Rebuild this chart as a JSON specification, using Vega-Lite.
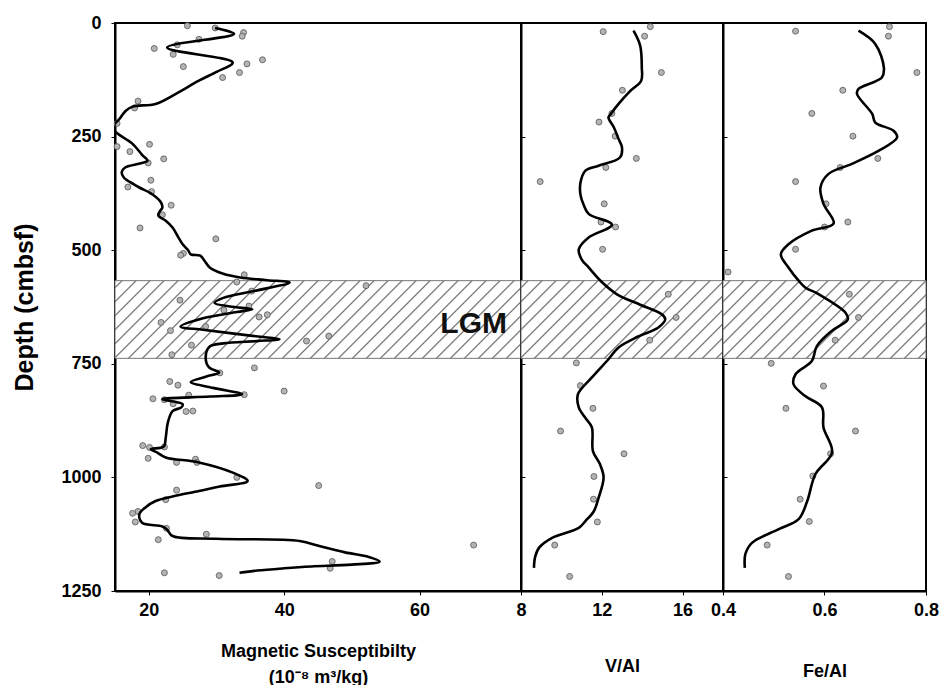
{
  "$schema": "https://vega.github.io/schema/vega-lite/v6.json",
  "background": "white",
  "padding": {"left": 11, "top": 13, "right": 5, "bottom": 5},
  "spacing": 0,
  "bounds": "flush",
  "config": {
    "font": "Liberation Sans",
    "view": {"stroke": "black", "strokeWidth": 2},
    "axis": {
      "labelFont": "Liberation Sans", "labelFontWeight": "bold", "labelFontSize": 18, "labelColor": "black",
      "titleFont": "Liberation Sans", "titleFontWeight": "bold", "titleColor": "black",
      "domainColor": "black", "domainWidth": 2, "tickColor": "black", "tickWidth": 1,
      "grid": false, "labelFlush": false, "labelOverlap": false, "labelBound": false
    }
  },
  "datasets": {
    "band": [{"depth": 567, "depth2": 738}],
    "lgm": [{"depth": 662, "value": 68.0, "label": "LGM"}],
    "ms_pts": [
      {"depth": 6, "value": 25.7}, {"depth": 11, "value": 29.8}, {"depth": 21, "value": 34.0}, {"depth": 29, "value": 33.8},
      {"depth": 36, "value": 27.4}, {"depth": 48, "value": 24.2}, {"depth": 56, "value": 20.8}, {"depth": 69, "value": 23.6},
      {"depth": 81, "value": 36.8}, {"depth": 90, "value": 34.5}, {"depth": 96, "value": 25.1}, {"depth": 109, "value": 33.4},
      {"depth": 120, "value": 30.9}, {"depth": 172, "value": 18.4}, {"depth": 187, "value": 17.9}, {"depth": 221, "value": 15.3},
      {"depth": 267, "value": 20.1}, {"depth": 272, "value": 15.3}, {"depth": 283, "value": 17.2}, {"depth": 299, "value": 22.2},
      {"depth": 308, "value": 19.9}, {"depth": 346, "value": 20.3}, {"depth": 361, "value": 16.9}, {"depth": 371, "value": 20.4},
      {"depth": 401, "value": 23.3}, {"depth": 422, "value": 22.0}, {"depth": 451, "value": 18.7}, {"depth": 475, "value": 29.9},
      {"depth": 507, "value": 25.1}, {"depth": 511, "value": 24.7}, {"depth": 554, "value": 34.1}, {"depth": 570, "value": 33.0},
      {"depth": 578, "value": 52.1}, {"depth": 590, "value": 35.2}, {"depth": 610, "value": 24.6}, {"depth": 623, "value": 34.8},
      {"depth": 632, "value": 31.1}, {"depth": 642, "value": 37.5}, {"depth": 647, "value": 36.3}, {"depth": 659, "value": 21.8},
      {"depth": 668, "value": 28.4}, {"depth": 677, "value": 23.2}, {"depth": 689, "value": 46.6}, {"depth": 700, "value": 43.3},
      {"depth": 709, "value": 26.3}, {"depth": 730, "value": 23.4}, {"depth": 759, "value": 35.6}, {"depth": 770, "value": 30.5},
      {"depth": 789, "value": 23.1}, {"depth": 797, "value": 24.3}, {"depth": 810, "value": 40.0}, {"depth": 818, "value": 34.1},
      {"depth": 819, "value": 25.9}, {"depth": 827, "value": 20.6}, {"depth": 829, "value": 22.3}, {"depth": 838, "value": 23.6},
      {"depth": 854, "value": 26.5}, {"depth": 855, "value": 25.5}, {"depth": 930, "value": 19.1}, {"depth": 933, "value": 22.3},
      {"depth": 934, "value": 20.1}, {"depth": 958, "value": 19.9}, {"depth": 960, "value": 26.9}, {"depth": 967, "value": 24.1},
      {"depth": 967, "value": 27.1}, {"depth": 1000, "value": 33.0}, {"depth": 1018, "value": 45.1}, {"depth": 1028, "value": 24.1},
      {"depth": 1049, "value": 22.5}, {"depth": 1075, "value": 18.4}, {"depth": 1079, "value": 17.6}, {"depth": 1098, "value": 18.0},
      {"depth": 1112, "value": 22.6}, {"depth": 1125, "value": 28.5}, {"depth": 1137, "value": 21.4}, {"depth": 1149, "value": 68.0},
      {"depth": 1185, "value": 47.1}, {"depth": 1200, "value": 46.8}, {"depth": 1210, "value": 22.3}, {"depth": 1216, "value": 30.4}
    ],
    "ms_line": [
      {"depth": 11, "value": 29.8}, {"depth": 24, "value": 32.6}, {"depth": 54, "value": 22.7}, {"depth": 87, "value": 32.4},
      {"depth": 107, "value": 30.1}, {"depth": 127, "value": 27.4}, {"depth": 156, "value": 24.0}, {"depth": 178, "value": 21.0},
      {"depth": 184, "value": 17.6}, {"depth": 193, "value": 16.6}, {"depth": 212, "value": 15.6}, {"depth": 222, "value": 15.0},
      {"depth": 235, "value": 14.8}, {"depth": 266, "value": 17.6}, {"depth": 290, "value": 19.0}, {"depth": 303, "value": 19.8},
      {"depth": 310, "value": 18.5}, {"depth": 318, "value": 16.5}, {"depth": 328, "value": 16.0}, {"depth": 340, "value": 16.3},
      {"depth": 355, "value": 17.8}, {"depth": 362, "value": 18.6}, {"depth": 377, "value": 20.5}, {"depth": 395, "value": 21.8},
      {"depth": 406, "value": 22.0}, {"depth": 415, "value": 21.6}, {"depth": 424, "value": 21.4}, {"depth": 435, "value": 22.5},
      {"depth": 450, "value": 23.5}, {"depth": 470, "value": 24.3}, {"depth": 487, "value": 25.0}, {"depth": 500, "value": 25.8},
      {"depth": 509, "value": 26.2}, {"depth": 512, "value": 27.6}, {"depth": 525, "value": 28.3}, {"depth": 538, "value": 29.0},
      {"depth": 552, "value": 31.0}, {"depth": 560, "value": 33.5}, {"depth": 566, "value": 37.5}, {"depth": 571, "value": 40.8},
      {"depth": 590, "value": 35.5}, {"depth": 605, "value": 31.0}, {"depth": 616, "value": 29.7}, {"depth": 624, "value": 32.0},
      {"depth": 630, "value": 35.3}, {"depth": 636, "value": 33.0}, {"depth": 650, "value": 28.0}, {"depth": 668, "value": 24.7},
      {"depth": 675, "value": 28.0}, {"depth": 688, "value": 35.0}, {"depth": 696, "value": 39.3}, {"depth": 700, "value": 36.0},
      {"depth": 705, "value": 31.0}, {"depth": 712, "value": 29.0}, {"depth": 736, "value": 28.4}, {"depth": 758, "value": 28.9},
      {"depth": 769, "value": 30.4}, {"depth": 778, "value": 28.5}, {"depth": 790, "value": 26.2}, {"depth": 803, "value": 29.5},
      {"depth": 817, "value": 33.8}, {"depth": 822, "value": 29.0}, {"depth": 828, "value": 22.0}, {"depth": 834, "value": 24.0},
      {"depth": 839, "value": 25.0}, {"depth": 846, "value": 24.8}, {"depth": 854, "value": 23.5}, {"depth": 880, "value": 22.8},
      {"depth": 912, "value": 22.5}, {"depth": 932, "value": 22.2}, {"depth": 938, "value": 20.3}, {"depth": 945, "value": 21.2},
      {"depth": 956, "value": 22.5}, {"depth": 967, "value": 27.4}, {"depth": 990, "value": 32.5}, {"depth": 1008, "value": 34.6},
      {"depth": 1020, "value": 30.5}, {"depth": 1030, "value": 27.4}, {"depth": 1042, "value": 23.5}, {"depth": 1052, "value": 21.0},
      {"depth": 1066, "value": 19.5}, {"depth": 1081, "value": 18.6}, {"depth": 1100, "value": 19.0}, {"depth": 1108, "value": 22.0},
      {"depth": 1115, "value": 22.7}, {"depth": 1129, "value": 23.5}, {"depth": 1135, "value": 30.0}, {"depth": 1140, "value": 42.3},
      {"depth": 1151, "value": 45.2}, {"depth": 1165, "value": 49.0}, {"depth": 1175, "value": 52.5}, {"depth": 1185, "value": 54.1},
      {"depth": 1192, "value": 50.0}, {"depth": 1196, "value": 44.0}, {"depth": 1200, "value": 40.0}, {"depth": 1205, "value": 36.0},
      {"depth": 1210, "value": 33.4}
    ],
    "v_pts": [
      {"depth": 8, "value": 14.4}, {"depth": 19, "value": 12.07}, {"depth": 29, "value": 14.12}, {"depth": 109, "value": 14.95},
      {"depth": 148, "value": 13.02}, {"depth": 199, "value": 12.5}, {"depth": 218, "value": 11.86}, {"depth": 249, "value": 12.66},
      {"depth": 298, "value": 13.71}, {"depth": 318, "value": 12.2}, {"depth": 349, "value": 8.95}, {"depth": 398, "value": 12.12},
      {"depth": 438, "value": 11.96}, {"depth": 449, "value": 12.68}, {"depth": 498, "value": 12.04}, {"depth": 597, "value": 15.29},
      {"depth": 648, "value": 15.68}, {"depth": 698, "value": 14.37}, {"depth": 748, "value": 10.74}, {"depth": 798, "value": 10.94},
      {"depth": 848, "value": 11.56}, {"depth": 898, "value": 9.96}, {"depth": 948, "value": 13.1}, {"depth": 998, "value": 11.61},
      {"depth": 1048, "value": 11.59}, {"depth": 1098, "value": 11.78}, {"depth": 1149, "value": 9.67}, {"depth": 1218, "value": 10.41}
    ],
    "v_line": [
      {"depth": 17, "value": 13.57}, {"depth": 50, "value": 13.9}, {"depth": 98, "value": 13.98}, {"depth": 127, "value": 13.95},
      {"depth": 150, "value": 13.4}, {"depth": 178, "value": 12.83}, {"depth": 200, "value": 12.45}, {"depth": 208, "value": 12.33},
      {"depth": 230, "value": 12.6}, {"depth": 255, "value": 12.83}, {"depth": 274, "value": 13.0}, {"depth": 296, "value": 12.9},
      {"depth": 314, "value": 11.84}, {"depth": 325, "value": 11.19}, {"depth": 350, "value": 10.95}, {"depth": 377, "value": 10.94},
      {"depth": 400, "value": 11.1}, {"depth": 420, "value": 11.35}, {"depth": 444, "value": 12.5}, {"depth": 472, "value": 11.35},
      {"depth": 498, "value": 10.86}, {"depth": 520, "value": 11.0}, {"depth": 538, "value": 11.35}, {"depth": 570, "value": 12.0},
      {"depth": 597, "value": 12.75}, {"depth": 620, "value": 13.9}, {"depth": 641, "value": 14.97}, {"depth": 652, "value": 15.14},
      {"depth": 670, "value": 14.8}, {"depth": 690, "value": 13.8}, {"depth": 714, "value": 12.83}, {"depth": 740, "value": 12.33},
      {"depth": 780, "value": 11.51}, {"depth": 817, "value": 10.82}, {"depth": 846, "value": 10.86}, {"depth": 870, "value": 11.2},
      {"depth": 890, "value": 11.51}, {"depth": 942, "value": 11.56}, {"depth": 970, "value": 11.9}, {"depth": 1000, "value": 12.09},
      {"depth": 1045, "value": 11.84}, {"depth": 1075, "value": 11.6}, {"depth": 1096, "value": 11.19}, {"depth": 1111, "value": 10.86},
      {"depth": 1133, "value": 9.54}, {"depth": 1155, "value": 8.89}, {"depth": 1175, "value": 8.7}, {"depth": 1199, "value": 8.64}
    ],
    "fe_pts": [
      {"depth": 8, "value": 0.728}, {"depth": 18, "value": 0.543}, {"depth": 29, "value": 0.726}, {"depth": 109, "value": 0.782},
      {"depth": 148, "value": 0.636}, {"depth": 199, "value": 0.575}, {"depth": 249, "value": 0.656}, {"depth": 298, "value": 0.705},
      {"depth": 318, "value": 0.631}, {"depth": 349, "value": 0.543}, {"depth": 398, "value": 0.603}, {"depth": 438, "value": 0.646},
      {"depth": 449, "value": 0.6}, {"depth": 498, "value": 0.543}, {"depth": 548, "value": 0.41}, {"depth": 597, "value": 0.649},
      {"depth": 648, "value": 0.667}, {"depth": 698, "value": 0.621}, {"depth": 749, "value": 0.495}, {"depth": 799, "value": 0.598},
      {"depth": 848, "value": 0.524}, {"depth": 898, "value": 0.661}, {"depth": 948, "value": 0.612}, {"depth": 997, "value": 0.577},
      {"depth": 1048, "value": 0.552}, {"depth": 1097, "value": 0.57}, {"depth": 1149, "value": 0.487}, {"depth": 1218, "value": 0.529}
    ],
    "fe_line": [
      {"depth": 17, "value": 0.667}, {"depth": 46, "value": 0.7}, {"depth": 98, "value": 0.717}, {"depth": 120, "value": 0.713},
      {"depth": 145, "value": 0.667}, {"depth": 156, "value": 0.664}, {"depth": 200, "value": 0.694}, {"depth": 219, "value": 0.7},
      {"depth": 237, "value": 0.736}, {"depth": 252, "value": 0.743}, {"depth": 281, "value": 0.707}, {"depth": 310, "value": 0.654},
      {"depth": 332, "value": 0.608}, {"depth": 362, "value": 0.592}, {"depth": 398, "value": 0.598}, {"depth": 441, "value": 0.618},
      {"depth": 457, "value": 0.575}, {"depth": 487, "value": 0.529}, {"depth": 509, "value": 0.514}, {"depth": 538, "value": 0.529},
      {"depth": 567, "value": 0.549}, {"depth": 582, "value": 0.562}, {"depth": 597, "value": 0.589}, {"depth": 637, "value": 0.641},
      {"depth": 652, "value": 0.646}, {"depth": 677, "value": 0.615}, {"depth": 711, "value": 0.585}, {"depth": 744, "value": 0.575},
      {"depth": 773, "value": 0.543}, {"depth": 795, "value": 0.539}, {"depth": 821, "value": 0.562}, {"depth": 846, "value": 0.595},
      {"depth": 890, "value": 0.598}, {"depth": 945, "value": 0.615}, {"depth": 993, "value": 0.582}, {"depth": 1052, "value": 0.566},
      {"depth": 1092, "value": 0.549}, {"depth": 1114, "value": 0.51}, {"depth": 1144, "value": 0.457}, {"depth": 1169, "value": 0.444},
      {"depth": 1199, "value": 0.443}
    ]
  },
  "hconcat": [
    {
      "width": 406, "height": 568,
      "encoding": {
        "y": {"field": "depth", "type": "quantitative",
          "scale": {"domain": [0, 1250], "reverse": true, "nice": false, "zero": false},
          "axis": {"title": "Depth (cmbsf)", "values": [0, 250, 500, 750, 1000, 1250], "format": "d", "titleFontSize": 25, "tickSize": 4, "labelPadding": 10, "titlePadding": 23}}
      },
      "layer": [
        {
          "data": {"name": "band"},
          "mark": {"type": "rect", "stroke": "#777777", "strokeWidth": 1,
            "fill": {"gradient": "linear", "x1": 0, "y1": 0, "x2": 1.1643, "y2": 0.2228, "stops": [
              {"offset": 0, "color": "#fff"},
              {"offset": 0.0109, "color": "#fff"}, {"offset": 0.0143, "color": "#666"}, {"offset": 0.0177, "color": "#fff"},
              {"offset": 0.0395, "color": "#fff"}, {"offset": 0.0429, "color": "#666"}, {"offset": 0.0463, "color": "#fff"},
              {"offset": 0.0680, "color": "#fff"}, {"offset": 0.0714, "color": "#666"}, {"offset": 0.0748, "color": "#fff"},
              {"offset": 0.0966, "color": "#fff"}, {"offset": 0.1000, "color": "#666"}, {"offset": 0.1034, "color": "#fff"},
              {"offset": 0.1252, "color": "#fff"}, {"offset": 0.1286, "color": "#666"}, {"offset": 0.1320, "color": "#fff"},
              {"offset": 0.1537, "color": "#fff"}, {"offset": 0.1571, "color": "#666"}, {"offset": 0.1605, "color": "#fff"},
              {"offset": 0.1823, "color": "#fff"}, {"offset": 0.1857, "color": "#666"}, {"offset": 0.1891, "color": "#fff"},
              {"offset": 0.2109, "color": "#fff"}, {"offset": 0.2143, "color": "#666"}, {"offset": 0.2177, "color": "#fff"},
              {"offset": 0.2395, "color": "#fff"}, {"offset": 0.2429, "color": "#666"}, {"offset": 0.2463, "color": "#fff"},
              {"offset": 0.2680, "color": "#fff"}, {"offset": 0.2714, "color": "#666"}, {"offset": 0.2748, "color": "#fff"},
              {"offset": 0.2966, "color": "#fff"}, {"offset": 0.3000, "color": "#666"}, {"offset": 0.3034, "color": "#fff"},
              {"offset": 0.3252, "color": "#fff"}, {"offset": 0.3286, "color": "#666"}, {"offset": 0.3320, "color": "#fff"},
              {"offset": 0.3537, "color": "#fff"}, {"offset": 0.3571, "color": "#666"}, {"offset": 0.3605, "color": "#fff"},
              {"offset": 0.3823, "color": "#fff"}, {"offset": 0.3857, "color": "#666"}, {"offset": 0.3891, "color": "#fff"},
              {"offset": 0.4109, "color": "#fff"}, {"offset": 0.4143, "color": "#666"}, {"offset": 0.4177, "color": "#fff"},
              {"offset": 0.4395, "color": "#fff"}, {"offset": 0.4429, "color": "#666"}, {"offset": 0.4463, "color": "#fff"},
              {"offset": 0.4680, "color": "#fff"}, {"offset": 0.4714, "color": "#666"}, {"offset": 0.4748, "color": "#fff"},
              {"offset": 0.4966, "color": "#fff"}, {"offset": 0.5000, "color": "#666"}, {"offset": 0.5034, "color": "#fff"},
              {"offset": 0.5252, "color": "#fff"}, {"offset": 0.5286, "color": "#666"}, {"offset": 0.5320, "color": "#fff"},
              {"offset": 0.5537, "color": "#fff"}, {"offset": 0.5571, "color": "#666"}, {"offset": 0.5605, "color": "#fff"},
              {"offset": 0.5823, "color": "#fff"}, {"offset": 0.5857, "color": "#666"}, {"offset": 0.5891, "color": "#fff"},
              {"offset": 0.6109, "color": "#fff"}, {"offset": 0.6143, "color": "#666"}, {"offset": 0.6177, "color": "#fff"},
              {"offset": 0.6395, "color": "#fff"}, {"offset": 0.6429, "color": "#666"}, {"offset": 0.6463, "color": "#fff"},
              {"offset": 0.6680, "color": "#fff"}, {"offset": 0.6714, "color": "#666"}, {"offset": 0.6748, "color": "#fff"},
              {"offset": 0.6966, "color": "#fff"}, {"offset": 0.7000, "color": "#666"}, {"offset": 0.7034, "color": "#fff"},
              {"offset": 0.7252, "color": "#fff"}, {"offset": 0.7286, "color": "#666"}, {"offset": 0.7320, "color": "#fff"},
              {"offset": 0.7537, "color": "#fff"}, {"offset": 0.7571, "color": "#666"}, {"offset": 0.7605, "color": "#fff"},
              {"offset": 0.7823, "color": "#fff"}, {"offset": 0.7857, "color": "#666"}, {"offset": 0.7891, "color": "#fff"},
              {"offset": 0.8109, "color": "#fff"}, {"offset": 0.8143, "color": "#666"}, {"offset": 0.8177, "color": "#fff"},
              {"offset": 0.8395, "color": "#fff"}, {"offset": 0.8429, "color": "#666"}, {"offset": 0.8463, "color": "#fff"},
              {"offset": 0.8680, "color": "#fff"}, {"offset": 0.8714, "color": "#666"}, {"offset": 0.8748, "color": "#fff"},
              {"offset": 0.8966, "color": "#fff"}, {"offset": 0.9000, "color": "#666"}, {"offset": 0.9034, "color": "#fff"},
              {"offset": 0.9252, "color": "#fff"}, {"offset": 0.9286, "color": "#666"}, {"offset": 0.9320, "color": "#fff"},
              {"offset": 0.9537, "color": "#fff"}, {"offset": 0.9571, "color": "#666"}, {"offset": 0.9605, "color": "#fff"},
              {"offset": 0.9823, "color": "#fff"}, {"offset": 0.9857, "color": "#666"}, {"offset": 0.9891, "color": "#fff"},
              {"offset": 1, "color": "#fff"}
            ]}},
          "encoding": {"y2": {"field": "depth2"}}
        },
        {
          "encoding": {
            "x": {"field": "value", "type": "quantitative", "scale": {"domain": [15, 75], "nice": false, "zero": false},
              "axis": {"title": ["Magnetic Susceptibilty", "(10⁻⁸ m³/kg)"], "values": [20, 40, 60], "titleFontSize": 18, "titleLineHeight": 26, "tickSize": 4, "labelPadding": 6, "titlePadding": 23}}
          },
          "layer": [
            {
              "data": {"name": "ms_pts"},
              "mark": {"type": "point", "shape": "circle", "filled": true, "fill": "#b4b4b4", "stroke": "#555555", "strokeWidth": 0.8, "size": 36, "opacity": 1}
            },
            {
              "data": {"name": "ms_line"},
              "mark": {"type": "line", "color": "black", "strokeWidth": 2.6, "interpolate": "catmull-rom", "clip": true},
              "encoding": {"order": {"field": "depth", "type": "quantitative"}}
            },
            {
              "data": {"name": "lgm"},
              "mark": {"type": "text", "fontSize": 30, "fontWeight": "bold", "font": "Liberation Sans", "color": "#111", "align": "center", "baseline": "middle"},
              "encoding": {"text": {"field": "label"}}
            }
          ]
        }
      ]
    },
    {
      "width": 202, "height": 568,
      "encoding": {
        "y": {"field": "depth", "type": "quantitative",
          "scale": {"domain": [0, 1250], "reverse": true, "nice": false, "zero": false},
          "axis": {"title": null, "labels": false, "values": [0, 250, 500, 750, 1000, 1250], "tickSize": -4}}
      },
      "layer": [
        {
          "data": {"name": "band"},
          "mark": {"type": "rect", "stroke": "#777777", "strokeWidth": 1,
            "fill": {"gradient": "linear", "x1": 0, "y1": 0, "x2": 1.2075, "y2": 0.4645, "stops": [
              {"offset": 0, "color": "#fff"},
              {"offset": 0.019, "color": "#fff"}, {"offset": 0.025, "color": "#666"}, {"offset": 0.031, "color": "#fff"},
              {"offset": 0.069, "color": "#fff"}, {"offset": 0.075, "color": "#666"}, {"offset": 0.081, "color": "#fff"},
              {"offset": 0.119, "color": "#fff"}, {"offset": 0.125, "color": "#666"}, {"offset": 0.131, "color": "#fff"},
              {"offset": 0.169, "color": "#fff"}, {"offset": 0.175, "color": "#666"}, {"offset": 0.181, "color": "#fff"},
              {"offset": 0.219, "color": "#fff"}, {"offset": 0.225, "color": "#666"}, {"offset": 0.231, "color": "#fff"},
              {"offset": 0.269, "color": "#fff"}, {"offset": 0.275, "color": "#666"}, {"offset": 0.281, "color": "#fff"},
              {"offset": 0.319, "color": "#fff"}, {"offset": 0.325, "color": "#666"}, {"offset": 0.331, "color": "#fff"},
              {"offset": 0.369, "color": "#fff"}, {"offset": 0.375, "color": "#666"}, {"offset": 0.381, "color": "#fff"},
              {"offset": 0.419, "color": "#fff"}, {"offset": 0.425, "color": "#666"}, {"offset": 0.431, "color": "#fff"},
              {"offset": 0.469, "color": "#fff"}, {"offset": 0.475, "color": "#666"}, {"offset": 0.481, "color": "#fff"},
              {"offset": 0.519, "color": "#fff"}, {"offset": 0.525, "color": "#666"}, {"offset": 0.531, "color": "#fff"},
              {"offset": 0.569, "color": "#fff"}, {"offset": 0.575, "color": "#666"}, {"offset": 0.581, "color": "#fff"},
              {"offset": 0.619, "color": "#fff"}, {"offset": 0.625, "color": "#666"}, {"offset": 0.631, "color": "#fff"},
              {"offset": 0.669, "color": "#fff"}, {"offset": 0.675, "color": "#666"}, {"offset": 0.681, "color": "#fff"},
              {"offset": 0.719, "color": "#fff"}, {"offset": 0.725, "color": "#666"}, {"offset": 0.731, "color": "#fff"},
              {"offset": 0.769, "color": "#fff"}, {"offset": 0.775, "color": "#666"}, {"offset": 0.781, "color": "#fff"},
              {"offset": 0.819, "color": "#fff"}, {"offset": 0.825, "color": "#666"}, {"offset": 0.831, "color": "#fff"},
              {"offset": 0.869, "color": "#fff"}, {"offset": 0.875, "color": "#666"}, {"offset": 0.881, "color": "#fff"},
              {"offset": 0.919, "color": "#fff"}, {"offset": 0.925, "color": "#666"}, {"offset": 0.931, "color": "#fff"},
              {"offset": 0.969, "color": "#fff"}, {"offset": 0.975, "color": "#666"}, {"offset": 0.981, "color": "#fff"},
              {"offset": 1, "color": "#fff"}
            ]}},
          "encoding": {"y2": {"field": "depth2"}}
        },
        {
          "encoding": {
            "x": {"field": "value", "type": "quantitative", "scale": {"domain": [8, 18], "nice": false, "zero": false},
              "axis": {"title": "V/Al", "values": [8, 12, 16], "titleFontSize": 18, "tickSize": 4, "labelPadding": 6, "titlePadding": 38}}
          },
          "layer": [
            {
              "data": {"name": "v_pts"},
              "mark": {"type": "point", "shape": "circle", "filled": true, "fill": "#b4b4b4", "stroke": "#555555", "strokeWidth": 0.8, "size": 36, "opacity": 1}
            },
            {
              "data": {"name": "v_line"},
              "mark": {"type": "line", "color": "black", "strokeWidth": 2.6, "interpolate": "catmull-rom", "clip": true},
              "encoding": {"order": {"field": "depth", "type": "quantitative"}}
            }
          ]
        }
      ]
    },
    {
      "width": 203, "height": 568,
      "encoding": {
        "y": {"field": "depth", "type": "quantitative",
          "scale": {"domain": [0, 1250], "reverse": true, "nice": false, "zero": false},
          "axis": {"title": null, "labels": false, "values": [0, 250, 500, 750, 1000, 1250], "tickSize": -4}}
      },
      "layer": [
        {
          "data": {"name": "band"},
          "mark": {"type": "rect", "stroke": "#777777", "strokeWidth": 1,
            "fill": {"gradient": "linear", "x1": 0, "y1": 0, "x2": 1.2031, "y2": 0.4605, "stops": [
              {"offset": 0, "color": "#fff"},
              {"offset": 0.019, "color": "#fff"}, {"offset": 0.025, "color": "#666"}, {"offset": 0.031, "color": "#fff"},
              {"offset": 0.069, "color": "#fff"}, {"offset": 0.075, "color": "#666"}, {"offset": 0.081, "color": "#fff"},
              {"offset": 0.119, "color": "#fff"}, {"offset": 0.125, "color": "#666"}, {"offset": 0.131, "color": "#fff"},
              {"offset": 0.169, "color": "#fff"}, {"offset": 0.175, "color": "#666"}, {"offset": 0.181, "color": "#fff"},
              {"offset": 0.219, "color": "#fff"}, {"offset": 0.225, "color": "#666"}, {"offset": 0.231, "color": "#fff"},
              {"offset": 0.269, "color": "#fff"}, {"offset": 0.275, "color": "#666"}, {"offset": 0.281, "color": "#fff"},
              {"offset": 0.319, "color": "#fff"}, {"offset": 0.325, "color": "#666"}, {"offset": 0.331, "color": "#fff"},
              {"offset": 0.369, "color": "#fff"}, {"offset": 0.375, "color": "#666"}, {"offset": 0.381, "color": "#fff"},
              {"offset": 0.419, "color": "#fff"}, {"offset": 0.425, "color": "#666"}, {"offset": 0.431, "color": "#fff"},
              {"offset": 0.469, "color": "#fff"}, {"offset": 0.475, "color": "#666"}, {"offset": 0.481, "color": "#fff"},
              {"offset": 0.519, "color": "#fff"}, {"offset": 0.525, "color": "#666"}, {"offset": 0.531, "color": "#fff"},
              {"offset": 0.569, "color": "#fff"}, {"offset": 0.575, "color": "#666"}, {"offset": 0.581, "color": "#fff"},
              {"offset": 0.619, "color": "#fff"}, {"offset": 0.625, "color": "#666"}, {"offset": 0.631, "color": "#fff"},
              {"offset": 0.669, "color": "#fff"}, {"offset": 0.675, "color": "#666"}, {"offset": 0.681, "color": "#fff"},
              {"offset": 0.719, "color": "#fff"}, {"offset": 0.725, "color": "#666"}, {"offset": 0.731, "color": "#fff"},
              {"offset": 0.769, "color": "#fff"}, {"offset": 0.775, "color": "#666"}, {"offset": 0.781, "color": "#fff"},
              {"offset": 0.819, "color": "#fff"}, {"offset": 0.825, "color": "#666"}, {"offset": 0.831, "color": "#fff"},
              {"offset": 0.869, "color": "#fff"}, {"offset": 0.875, "color": "#666"}, {"offset": 0.881, "color": "#fff"},
              {"offset": 0.919, "color": "#fff"}, {"offset": 0.925, "color": "#666"}, {"offset": 0.931, "color": "#fff"},
              {"offset": 0.969, "color": "#fff"}, {"offset": 0.975, "color": "#666"}, {"offset": 0.981, "color": "#fff"},
              {"offset": 1, "color": "#fff"}
            ]}},
          "encoding": {"y2": {"field": "depth2"}}
        },
        {
          "encoding": {
            "x": {"field": "value", "type": "quantitative", "scale": {"domain": [0.4, 0.8], "nice": false, "zero": false},
              "axis": {"title": "Fe/Al", "values": [0.4, 0.6, 0.8], "format": ".1f", "titleFontSize": 18, "tickSize": 4, "labelPadding": 6, "titlePadding": 43}}
          },
          "layer": [
            {
              "data": {"name": "fe_pts"},
              "mark": {"type": "point", "shape": "circle", "filled": true, "fill": "#b4b4b4", "stroke": "#555555", "strokeWidth": 0.8, "size": 36, "opacity": 1}
            },
            {
              "data": {"name": "fe_line"},
              "mark": {"type": "line", "color": "black", "strokeWidth": 2.6, "interpolate": "catmull-rom", "clip": true},
              "encoding": {"order": {"field": "depth", "type": "quantitative"}}
            }
          ]
        }
      ]
    }
  ]
}
